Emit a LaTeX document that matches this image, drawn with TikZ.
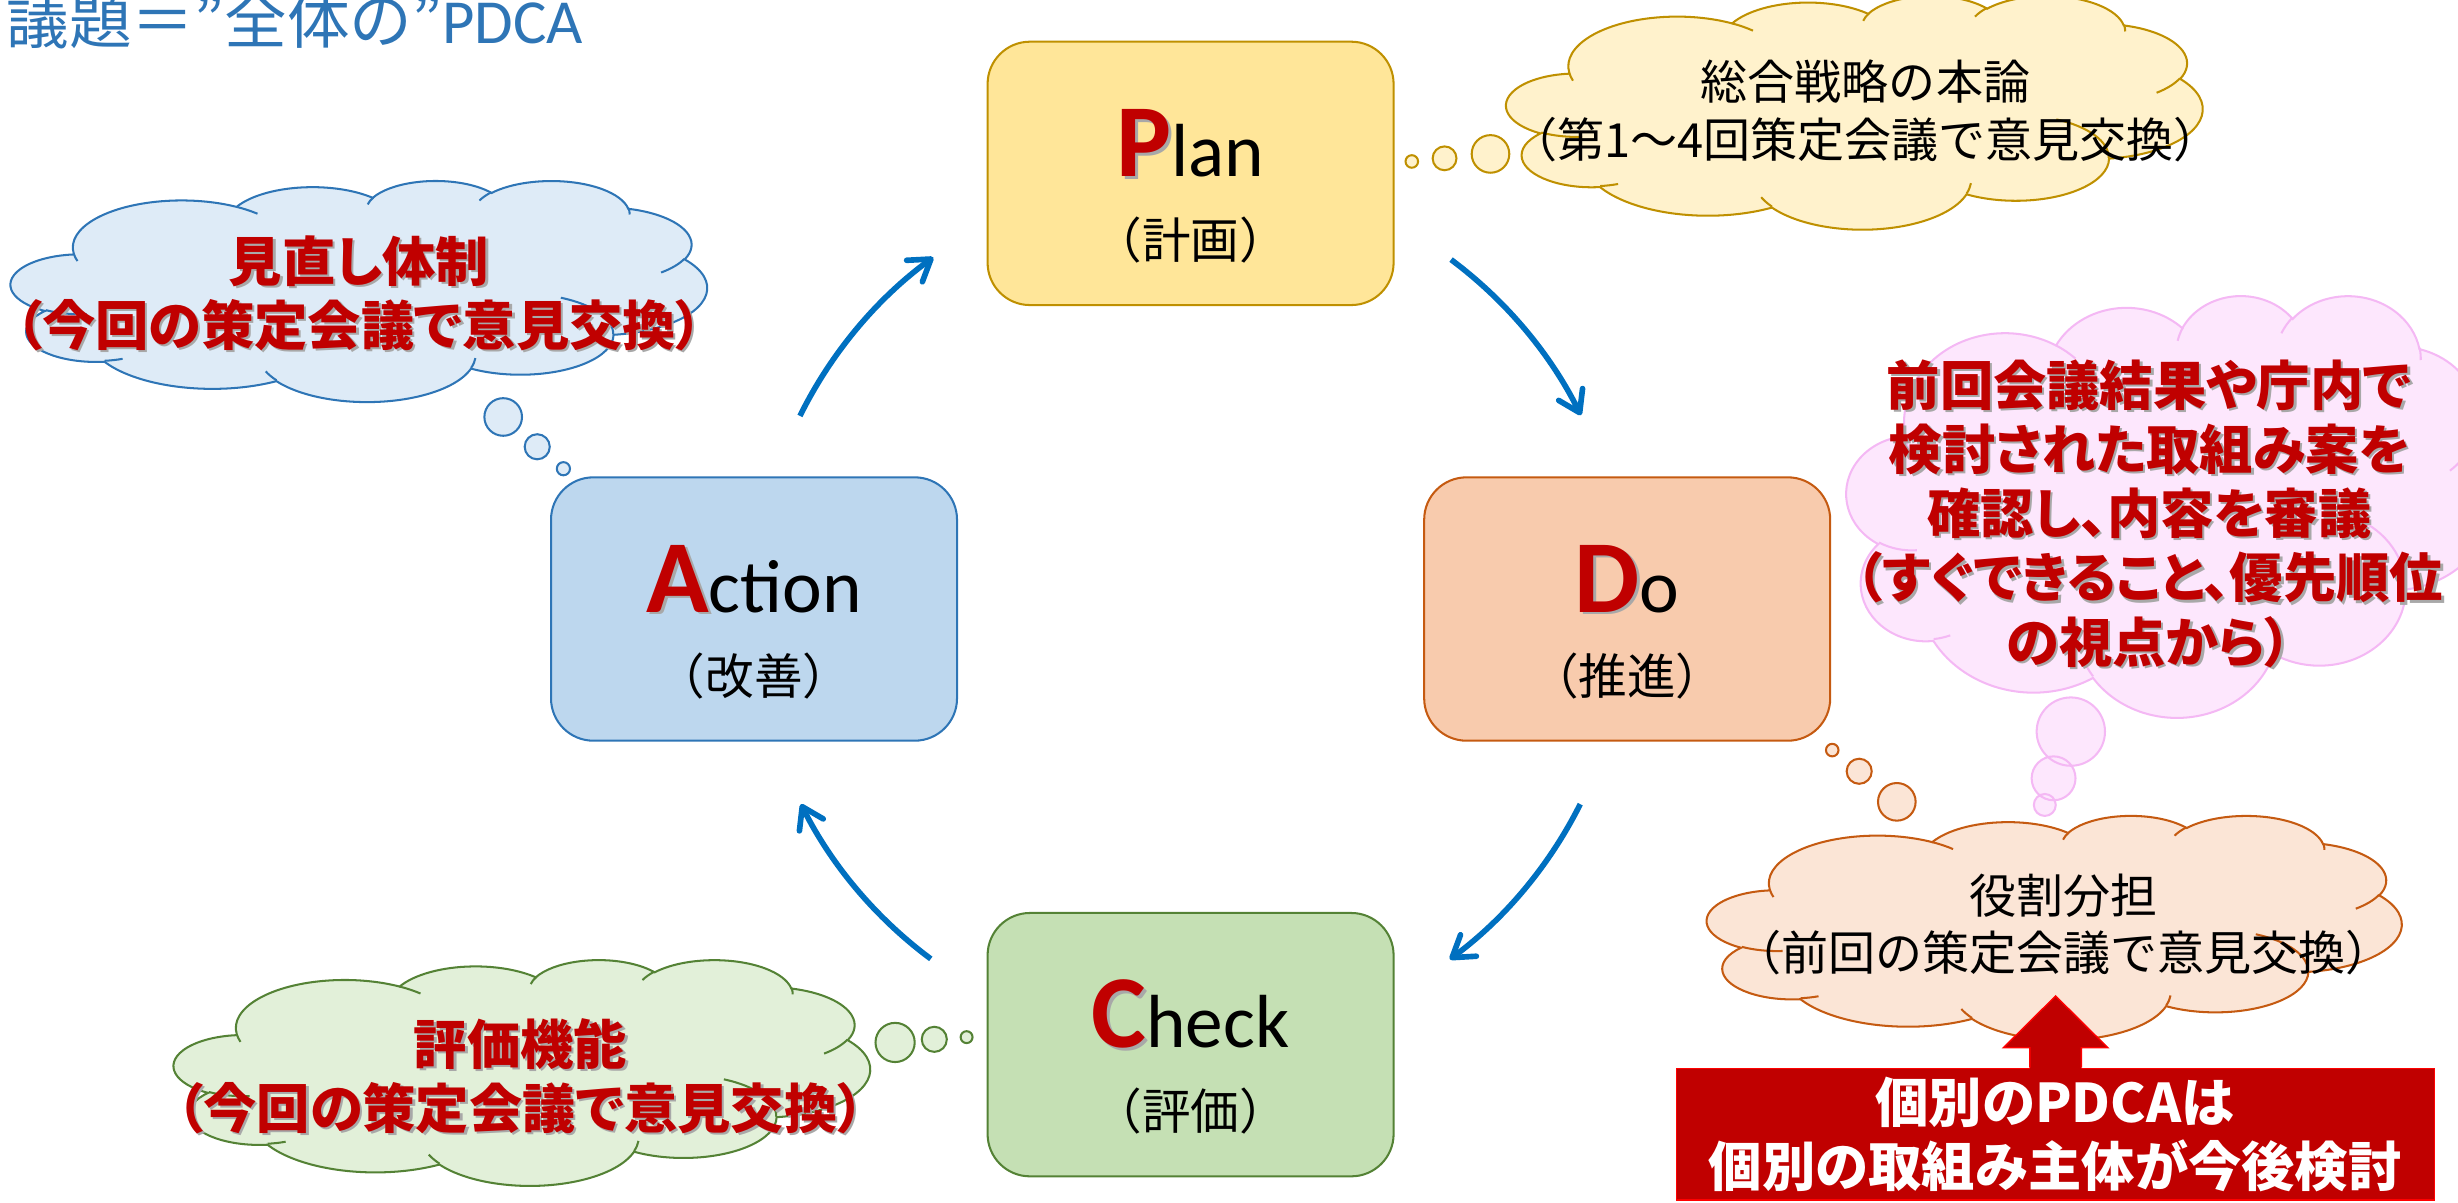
\documentclass[tikz,border=0pt]{standalone}
\usepackage{fontspec}
\setmainfont{Carlito}
\newfontfamily\jp{Noto Sans CJK JP}
\newfontfamily\jpp{Noto Sans CJK JP}[RawFeature=+palt]
\newfontfamily\carl{Carlito}
\usetikzlibrary{arrows.meta,calc}

\definecolor{pdred}{HTML}{C00000}
\definecolor{brightred}{HTML}{FF0000}
\definecolor{arrblue}{HTML}{0070C0}
\definecolor{titleblue}{HTML}{2E75B6}
\definecolor{shadowc}{HTML}{A8A8A8}
\definecolor{planfill}{HTML}{FFE699}
\definecolor{planline}{HTML}{BF9000}
\definecolor{ycloudfill}{HTML}{FFF2CC}
\definecolor{dofill}{HTML}{F8CBAD}
\definecolor{doline}{HTML}{C55A11}
\definecolor{ocloudfill}{HTML}{FBE5D6}
\definecolor{checkfill}{HTML}{C5E0B4}
\definecolor{checkline}{HTML}{548235}
\definecolor{gcloudfill}{HTML}{E2F0D9}
\definecolor{actfill}{HTML}{BDD7EE}
\definecolor{actline}{HTML}{2E75B6}
\definecolor{bcloudfill}{HTML}{DEEBF7}
\definecolor{pinkfill}{HTML}{FDE7FD}
\definecolor{pinkline}{HTML}{F4B8F4}

% PowerPoint-like cloud: #1 style, #2 x, #3 y (top-left), #4 width, #5 height
% path data in units of 1/1000 of the 43200 grid
\newcommand\pptcloud[5]{%
  \def\ccx{#2}\def\ccy{#3}\def\ccw{#4}\def\cch{#5}%
  \gdef\cpath{}\gdef\ipath{}%
  \foreach \cwr/\chr/\cst/\csw in {6.753/9.190/-190.4875/123.7805, 5.333/7.267/-144.1024/89.9452, 4.365/5.945/-145.8079/99.7230, 4.857/6.595/-130.9861/117.2417, 5.333/7.273/-78.7089/109.0269, 6.775/9.220/-46.2673/130.2690, 5.785/7.867/0.6250/114.0333, 6.752/9.215/22.4516/115.1726, 7.720/10.543/66.2426/75.7110, 4.360/5.918/-274.9421/146.7356, 4.345/5.945/-246.8285/152.5189}{%
    \pgfmathsetmacro\crx{\cwr/43.2*\ccw}%
    \pgfmathsetmacro\cry{\chr/43.2*\cch}%
    \pgfmathsetmacro\cta{atan2(\cwr*sin(\cst),\chr*cos(\cst))}%
    \pgfmathsetmacro\ctb{atan2(\cwr*sin(\cst+\csw),\chr*cos(\cst+\csw))}%
    \pgfmathsetmacro\cdt{mod(\ctb-(\cta)+720,360)}%
    \xdef\cpath{\cpath arc[start angle=\cta,delta angle=\cdt,x radius=\crx,y radius=\cry]}%
  }%
  \foreach \cX/\cY/\cwr/\chr/\cst/\csw in {4.693/26.177/4.345/5.945/86.7420/26.4295, 6.928/34.899/4.360/5.918/73.6105/11.4475, 16.478/39.090/6.752/9.215/137.6242/14.0811, 28.827/34.751/6.752/9.215/6.4533/15.9984, 34.129/22.954/5.785/7.867/-70.2924/70.9174, 41.798/15.354/5.333/7.273/30.3180/27.7515, 38.324/5.426/4.857/6.595/-13.7443/14.8589, 29.078/3.952/4.857/6.595/-149.1815/18.1954, 22.141/4.720/4.365/5.945/-163.4943/17.6864, 14.000/5.192/6.753/9.190/-66.7070/12.3194, 4.127/15.789/6.753/9.190/157.6544/11.8582}{%
    \pgfmathsetmacro\cpx{\ccx+\cX/43.2*\ccw}%
    \pgfmathsetmacro\cpy{\ccy+\cY/43.2*\cch}%
    \pgfmathsetmacro\crx{\cwr/43.2*\ccw}%
    \pgfmathsetmacro\cry{\chr/43.2*\cch}%
    \pgfmathsetmacro\cta{atan2(\cwr*sin(\cst),\chr*cos(\cst))}%
    \pgfmathsetmacro\ctb{atan2(\cwr*sin(\cst+\csw),\chr*cos(\cst+\csw))}%
    \pgfmathsetmacro\cdt{mod(\ctb-(\cta)+720,360)}%
    \xdef\ipath{\ipath (\cpx,\cpy) arc[start angle=\cta,delta angle=\cdt,x radius=\crx,y radius=\cry]}%
  }%
  \path[#1] ({\ccx+3.9/43.2*\ccw},{\ccy+14.37/43.2*\cch}) \cpath -- cycle;
  \path[#1, fill=none] \ipath;
}

\newcommand\capl[1]{\rlap{\kern1.8pt\raisebox{-1.8pt}{\textcolor{shadowc}{\bfseries\fontsize{66}{70}\selectfont #1}}}\textcolor{pdred}{\bfseries\fontsize{66}{70}\selectfont #1}}

\newcommand\bctext{見直し体制\\（今回の策定会議で意見交換）}
\newcommand\gctext{評価機能\\（今回の策定会議で意見交換）}
\newcommand\pctext{前回会議結果や庁内で\\検討された取組み案を\\確認し、内容を審議\\（すぐできること、優先順位\\の視点から）}

\tikzset{
  pbox/.style={rounded corners=27pt, minimum width=259pt, minimum height=168pt, line width=1.3pt, inner sep=0pt},
  bigtxt/.style={anchor=base, inner sep=0pt, font=\fontsize{48}{52}\selectfont},
  subtxt/.style={inner sep=0pt, font=\jp\fontsize{31}{36}\selectfont},
  pdarr/.style={draw=arrblue, line width=3.6pt, -{Straight Barb[length=13pt,width=17pt,round]}},
  ycl/.style={draw=planline, fill=ycloudfill, line width=1.3pt},
  ocl/.style={draw=doline, fill=ocloudfill, line width=1.3pt},
  gcl/.style={draw=checkline, fill=gcloudfill, line width=1.3pt},
  bcl/.style={draw=actline, fill=bcloudfill, line width=1.3pt},
  pcl/.style={draw=pinkline, fill=pinkfill, line width=1.3pt},
  cloudtxt/.style={align=center, inner sep=0pt, font=\jp\fontsize{30}{36.5}\selectfont},
  redtxt/.style={align=center, inner sep=0pt, font=\jpp\bfseries\fontsize{34}{41}\selectfont},
}

\begin{document}
\begin{tikzpicture}[x=1pt,y=-1pt]
\useasboundingbox (0,0) rectangle (1568,767.4);

% title
\node[anchor=base west, inner sep=0pt, text=titleblue, font=\jp\fontsize{40}{44}\selectfont] (title) at (4,27.7) {議題＝”全体の”{\carl PDCA}};

% PDCA boxes
\node[pbox, draw=planline, fill=planfill] (plan) at (759.5,110.6) {};
\node[pbox, draw=doline, fill=dofill] (do) at (1038,388.5) {};
\node[pbox, draw=checkline, fill=checkfill] (check) at (759.5,666.4) {};
\node[pbox, draw=actline, fill=actfill] (act) at (481,388.5) {};

\node[bigtxt] (plant) at ($(plan.center)+(0,2)$) {\capl{P}lan};
\node[subtxt] (plans) at ($(plan.center)+(0,42.5)$) {（計画）};
\node[bigtxt] (dot) at ($(do.center)+(0,2)$) {\capl{D}o};
\node[subtxt] (dos) at ($(do.center)+(0,42.5)$) {（推進）};
\node[bigtxt] (checkt) at ($(check.center)+(0,2)$) {\capl{C}heck};
\node[subtxt] (checks) at ($(check.center)+(0,42.5)$) {（評価）};
\node[bigtxt] (actt) at ($(act.center)+(0,2)$) {\capl{A}ction};
\node[subtxt] (acts) at ($(act.center)+(0,42.5)$) {（改善）};

% cycle arrows
\coordinate (ctr) at (759.5,388.5);
\coordinate (pdA) at ($(ctr)+(-53.3:278)$);
\coordinate (dcA) at ($(ctr)+(26.6:278)$);
\coordinate (caA) at ($(ctr)+(126.6:278)$);
\coordinate (apA) at ($(ctr)+(206.3:278)$);
\draw[pdarr] (pdA) arc[start angle=-53.3, end angle=-26.4, radius=278];
\draw[pdarr] (dcA) arc[start angle=26.6, end angle=53.5, radius=278];
\draw[pdarr] (caA) arc[start angle=126.6, end angle=153.4, radius=278];
\draw[pdarr] (apA) arc[start angle=206.3, end angle=233.8, radius=278];

% clouds
\pptcloud{ycl}{961}{-3}{444}{149}
\path[ycl] (900.6,103) circle[radius=4] (921.5,101) circle[radius=7.6] (950.8,98.2) circle[radius=12];
\pptcloud{bcl}{7}{115}{444}{141}
\path[bcl] (321,266) circle[radius=12] (342.7,285) circle[radius=8] (359.4,299) circle[radius=4.2];
\pptcloud{gcl}{111}{612}{444}{144}
\path[gcl] (571,665) circle[radius=12.5] (596,663) circle[radius=8] (616.6,661.6) circle[radius=3.8];
\pptcloud{pcl}{1178}{188}{412}{269}
\path[pcl] (1321,466.7) circle[radius=21.8] (1310,496.5) circle[radius=14] (1304.4,513.5) circle[radius=7];
\pptcloud{ocl}{1089}{520}{443}{143}
\path[ocl] (1168.8,478.5) circle[radius=4] (1186,492) circle[radius=8] (1210,511.5) circle[radius=12];

% cloud texts
\node[cloudtxt] (yctxt) at (1190,70.7) {総合戦略の本論\\（第1～4回策定会議で意見交換）};
\node[cloudtxt] (octxt) at (1316.5,590) {役割分担\\（前回の策定会議で意見交換）};
\node[redtxt, text=shadowc] (bcsh) at (230.5,188.5) {\bctext};
\node[redtxt, text=pdred] (bctxt) at (229,187) {\bctext};
\node[redtxt, text=shadowc] (gcsh) at (333.5,688) {\gctext};
\node[redtxt, text=pdred] (gctxt) at (332,686.5) {\gctext};
\node[redtxt, text=shadowc] (pcsh) at (1372.5,329.1) {\pctext};
\node[redtxt, text=pdred] (pctxt) at (1371,327.6) {\pctext};

% red box with up arrow
\node[draw=brightred, fill=pdred, line width=0.9pt, minimum width=483.4pt, minimum height=84pt, inner sep=0pt] (rbox) at (1311.3,723.5) {};
\fill[pdred] ($(rbox.north)+(-16.4,2)$) -- ($(rbox.north)+(-16.4,-12.7)$) -- ($(rbox.north)+(-33.3,-12.7)$) -- ($(rbox.north)+(0,-45.7)$) -- ($(rbox.north)+(33.3,-12.7)$) -- ($(rbox.north)+(16.4,-12.7)$) -- ($(rbox.north)+(16.4,2)$) -- cycle;
\draw[brightred, line width=0.9pt, line join=miter] ($(rbox.north)+(-16.4,0)$) -- ($(rbox.north)+(-16.4,-12.7)$) -- ($(rbox.north)+(-33.3,-12.7)$) -- ($(rbox.north)+(0,-45.7)$) -- ($(rbox.north)+(33.3,-12.7)$) -- ($(rbox.north)+(16.4,-12.7)$) -- ($(rbox.north)+(16.4,0)$);
\node[align=center, inner sep=0pt, text=white, font=\jp\bfseries\fontsize{34}{40.5}\selectfont] (rboxtxt) at (1311,723.8) {個別のPDCAは\\個別の取組み主体が今後検討};
\end{tikzpicture}
\end{document}
